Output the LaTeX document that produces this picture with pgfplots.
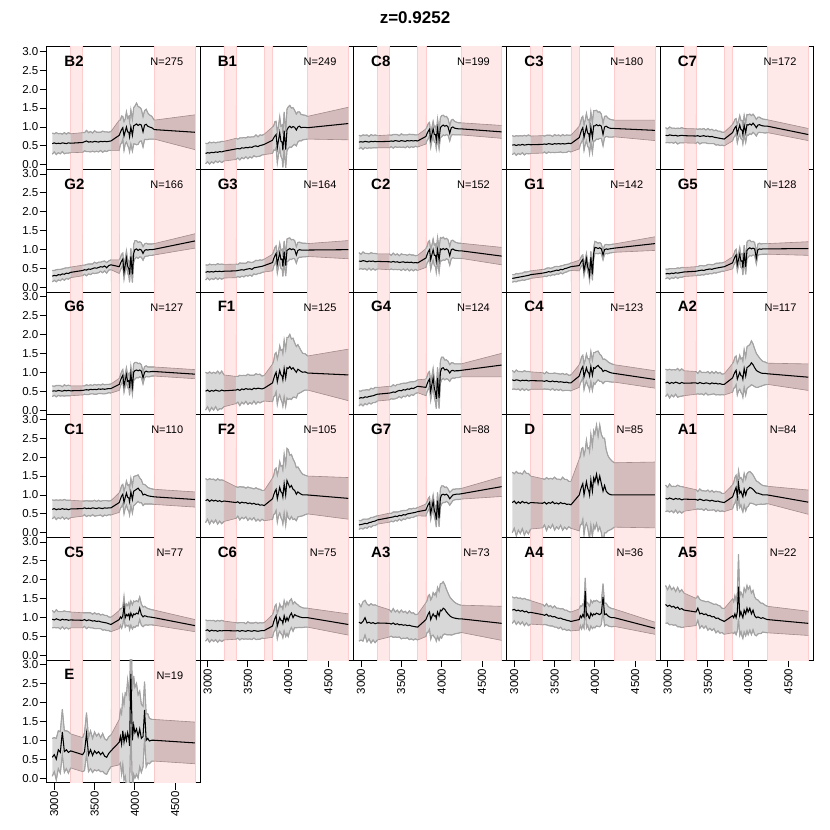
\documentclass[border=0pt]{standalone}
\usepackage{fontspec}
\setmainfont{Liberation Sans}
\usepackage{pgfplots}
\usepackage{pgfplotstable}
\pgfplotsset{compat=1.18}

\definecolor{pinkf}{RGB}{255,232,232}
\definecolor{pinke}{RGB}{255,205,205}
\definecolor{bandf}{RGB}{216,216,216}
\definecolor{bande}{RGB}{163,163,163}
\definecolor{brownf}{RGB}{212,188,188}
\definecolor{browne}{RGB}{165,140,140}

\pgfplotstableread{
name 1 2 3 4 5 6 7 8 9 10 11 12 13 14 15 16 17 18 19 20 21 22 23 24 25 26 27 28 29 30 31 32 33 34 35 36 37 38 39 40 41 42 43 44 45 46 47 48 49 50 51
x 2975 3000 3025 3050 3075 3100 3125 3150 3175 3203  3352 3375 3400 3425 3450 3475 3500 3525 3550 3575 3600 3625 3650 3675 3703  3806 3820 3835 3850 3865 3880 3895 3910 3925 3934 3950 3969 3985 4000 4020 4040 4060 4080 4101 4120 4140 4160 4180 4210 4240  4745
B2y 0.56 0.58 0.56 0.57 0.56 0.58 0.57 0.56 0.58 0.57  0.59 0.61 0.63 0.60 0.61 0.60 0.62 0.61 0.60 0.62 0.61 0.62 0.61 0.62 0.63  0.78 0.86 0.93 0.98 0.76 0.88 1.00 0.87 0.86 0.74 1.00 0.78 1.03 1.05 1.08 1.04 1.07 1.05 0.87 1.05 1.07 1.02 1.00 0.98 0.93  0.86
B2w 0.28 0.24 0.29 0.25 0.27 0.23 0.28 0.25 0.27 0.25  0.26 0.24 0.28 0.25 0.27 0.24 0.28 0.25 0.26 0.24 0.28 0.25 0.26 0.24 0.25  0.40 0.32 0.36 0.30 0.38 0.33 0.40 0.36 0.42 0.40 0.45 0.42 0.48 0.50 0.55 0.50 0.45 0.42 0.40 0.38 0.40 0.35 0.32 0.30 0.25  0.46
B1y 0.30 0.32 0.31 0.33 0.32 0.34 0.33 0.35 0.34 0.36  0.42 0.43 0.42 0.45 0.44 0.46 0.45 0.47 0.46 0.49 0.50 0.48 0.51 0.52 0.54  0.65 0.71 0.76 0.80 0.45 0.65 0.85 0.62 0.60 0.38 0.90 0.40 0.92 0.98 1.02 0.98 1.01 0.99 0.92 1.00 1.02 0.98 0.99 0.99 0.98  1.09
B1w 0.27 0.24 0.29 0.25 0.28 0.24 0.27 0.25 0.28 0.26  0.28 0.25 0.29 0.26 0.28 0.25 0.29 0.26 0.28 0.25 0.29 0.26 0.28 0.26 0.27  0.35 0.32 0.38 0.35 0.40 0.38 0.42 0.40 0.45 0.45 0.50 0.48 0.55 0.55 0.55 0.52 0.50 0.45 0.42 0.40 0.38 0.35 0.33 0.32 0.30  0.43
C8y 0.60 0.61 0.60 0.62 0.61 0.60 0.62 0.61 0.62 0.61  0.62 0.63 0.62 0.64 0.63 0.62 0.64 0.63 0.62 0.64 0.63 0.64 0.63 0.64 0.63  0.75 0.83 0.89 0.94 0.66 0.81 0.95 0.80 0.80 0.65 0.96 0.66 0.98 1.02 1.05 1.02 1.04 1.00 0.83 0.98 1.00 0.97 0.96 0.95 0.95  0.87
C8w 0.18 0.15 0.19 0.16 0.18 0.15 0.18 0.16 0.17 0.16  0.17 0.15 0.18 0.16 0.17 0.15 0.18 0.16 0.17 0.15 0.18 0.16 0.17 0.15 0.16  0.20 0.18 0.20 0.18 0.20 0.18 0.20 0.20 0.22 0.22 0.25 0.24 0.26 0.28 0.26 0.25 0.24 0.22 0.20 0.20 0.20 0.18 0.17 0.16 0.16  0.17
C3y 0.52 0.53 0.51 0.53 0.52 0.54 0.52 0.53 0.54 0.53  0.54 0.55 0.54 0.56 0.55 0.54 0.56 0.55 0.56 0.55 0.56 0.55 0.56 0.57 0.56  0.72 0.82 0.92 0.98 0.72 0.86 1.00 0.84 0.82 0.68 1.00 0.72 1.03 1.03 1.06 1.03 1.05 1.02 0.80 1.00 1.02 0.99 0.97 0.96 0.96  0.91
C3w 0.25 0.22 0.26 0.23 0.25 0.22 0.26 0.23 0.25 0.23  0.23 0.21 0.24 0.22 0.23 0.21 0.24 0.22 0.23 0.21 0.24 0.22 0.23 0.21 0.22  0.30 0.28 0.32 0.30 0.34 0.32 0.36 0.35 0.38 0.38 0.40 0.40 0.40 0.40 0.38 0.36 0.35 0.32 0.30 0.28 0.27 0.25 0.24 0.23 0.22  0.27
C7y 0.78 0.77 0.79 0.78 0.77 0.78 0.76 0.77 0.78 0.77  0.76 0.77 0.75 0.76 0.77 0.75 0.76 0.74 0.75 0.73 0.72 0.71 0.70 0.69 0.68  0.85 0.92 0.98 1.02 0.82 0.94 1.05 0.93 0.92 0.80 1.05 0.85 1.06 1.05 1.08 1.05 1.10 1.05 0.98 1.05 1.06 1.04 1.03 1.02 1.02  0.80
C7w 0.20 0.18 0.21 0.19 0.20 0.18 0.21 0.19 0.20 0.19  0.19 0.17 0.20 0.18 0.19 0.17 0.20 0.18 0.19 0.17 0.20 0.18 0.19 0.17 0.18  0.22 0.20 0.22 0.20 0.24 0.22 0.25 0.24 0.25 0.25 0.26 0.26 0.27 0.27 0.26 0.25 0.24 0.23 0.22 0.21 0.20 0.19 0.18 0.18 0.17  0.16
G2y 0.30 0.32 0.31 0.34 0.33 0.36 0.35 0.38 0.37 0.40  0.45 0.47 0.46 0.49 0.48 0.50 0.52 0.51 0.53 0.55 0.54 0.57 0.52 0.58 0.60  0.55 0.63 0.70 0.75 0.40 0.59 0.78 0.56 0.50 0.34 0.82 0.35 0.90 1.00 1.02 0.98 1.01 0.99 0.90 0.98 1.00 0.99 1.00 1.00 1.01  1.23
G2w 0.15 0.13 0.16 0.14 0.15 0.13 0.16 0.14 0.15 0.14  0.14 0.12 0.15 0.13 0.14 0.12 0.15 0.13 0.14 0.12 0.15 0.13 0.14 0.12 0.13  0.18 0.16 0.18 0.16 0.18 0.17 0.19 0.18 0.20 0.20 0.22 0.22 0.24 0.24 0.22 0.21 0.20 0.19 0.18 0.17 0.17 0.16 0.15 0.15 0.15  0.19
G3y 0.40 0.42 0.41 0.42 0.41 0.43 0.42 0.43 0.42 0.43  0.44 0.45 0.46 0.47 0.46 0.48 0.49 0.50 0.48 0.52 0.53 0.54 0.55 0.56 0.58  0.66 0.76 0.84 0.90 0.62 0.77 0.92 0.74 0.75 0.55 0.95 0.58 0.98 1.00 1.03 1.00 1.02 1.00 0.86 0.98 1.00 0.99 0.99 0.99 0.99  1.00
G3w 0.20 0.17 0.21 0.18 0.20 0.17 0.21 0.18 0.20 0.18  0.18 0.16 0.19 0.17 0.18 0.16 0.19 0.17 0.18 0.16 0.19 0.17 0.18 0.16 0.17  0.22 0.20 0.22 0.20 0.24 0.22 0.25 0.24 0.26 0.26 0.28 0.28 0.30 0.30 0.28 0.26 0.25 0.24 0.22 0.21 0.20 0.19 0.18 0.18 0.17  0.24
C2y 0.70 0.69 0.71 0.70 0.68 0.70 0.69 0.70 0.68 0.69  0.68 0.67 0.69 0.67 0.68 0.66 0.67 0.68 0.66 0.67 0.66 0.67 0.65 0.66 0.65  0.78 0.87 0.95 1.00 0.74 0.87 1.00 0.85 0.85 0.70 1.00 0.72 1.02 1.00 1.03 1.00 1.03 1.00 0.84 1.00 1.02 0.99 0.98 0.97 0.97  0.83
C2w 0.22 0.19 0.23 0.20 0.22 0.19 0.23 0.20 0.22 0.20  0.21 0.18 0.22 0.19 0.21 0.18 0.22 0.19 0.21 0.18 0.22 0.19 0.21 0.18 0.20  0.25 0.22 0.26 0.24 0.27 0.25 0.28 0.27 0.30 0.30 0.32 0.32 0.30 0.30 0.30 0.28 0.27 0.26 0.25 0.24 0.23 0.22 0.21 0.20 0.20  0.23
G1y 0.24 0.25 0.26 0.27 0.28 0.29 0.30 0.31 0.32 0.34  0.38 0.39 0.40 0.42 0.41 0.43 0.44 0.46 0.45 0.48 0.47 0.50 0.51 0.53 0.55  0.58 0.64 0.70 0.74 0.45 0.60 0.76 0.55 0.45 0.33 0.80 0.35 0.90 1.06 1.05 1.03 1.05 1.02 0.86 1.00 1.02 1.01 1.02 1.03 1.04  1.16
G1w 0.10 0.09 0.11 0.09 0.10 0.09 0.11 0.10 0.10 0.10  0.10 0.09 0.11 0.10 0.10 0.09 0.11 0.10 0.10 0.09 0.11 0.10 0.10 0.09 0.10  0.14 0.12 0.13 0.12 0.14 0.13 0.14 0.13 0.15 0.15 0.16 0.16 0.16 0.16 0.15 0.14 0.14 0.13 0.13 0.12 0.12 0.12 0.11 0.11 0.11  0.18
G5y 0.36 0.37 0.36 0.38 0.37 0.39 0.38 0.39 0.40 0.41  0.43 0.44 0.45 0.46 0.45 0.47 0.48 0.49 0.48 0.50 0.51 0.52 0.53 0.54 0.55  0.65 0.73 0.81 0.86 0.60 0.74 0.88 0.70 0.70 0.52 0.92 0.55 0.98 1.02 1.05 1.02 1.04 1.02 0.78 1.00 1.02 1.01 1.02 1.02 1.02  1.03
G5w 0.13 0.11 0.14 0.12 0.13 0.11 0.14 0.12 0.13 0.12  0.12 0.11 0.13 0.12 0.12 0.11 0.13 0.12 0.12 0.11 0.13 0.12 0.12 0.11 0.12  0.16 0.14 0.16 0.15 0.17 0.16 0.18 0.17 0.19 0.19 0.20 0.20 0.22 0.22 0.20 0.19 0.18 0.17 0.16 0.15 0.15 0.14 0.14 0.14 0.14  0.18
G6y 0.50 0.51 0.50 0.52 0.51 0.50 0.52 0.51 0.52 0.51  0.52 0.53 0.54 0.53 0.55 0.54 0.55 0.54 0.56 0.55 0.56 0.55 0.56 0.57 0.57  0.68 0.78 0.86 0.92 0.64 0.79 0.94 0.76 0.78 0.58 0.96 0.62 1.00 1.04 1.06 1.04 1.06 1.03 0.85 1.00 1.03 1.01 1.01 1.02 1.02  0.95
G6w 0.14 0.12 0.15 0.13 0.14 0.12 0.15 0.13 0.14 0.13  0.12 0.11 0.13 0.12 0.12 0.11 0.13 0.12 0.12 0.11 0.13 0.12 0.12 0.11 0.12  0.16 0.14 0.16 0.15 0.17 0.16 0.18 0.17 0.19 0.19 0.20 0.20 0.22 0.22 0.20 0.19 0.18 0.17 0.16 0.15 0.14 0.13 0.13 0.12 0.12  0.12
F1y 0.50 0.53 0.49 0.52 0.50 0.53 0.51 0.50 0.53 0.51  0.53 0.55 0.52 0.56 0.54 0.57 0.55 0.56 0.54 0.58 0.56 0.58 0.57 0.56 0.58  0.72 0.83 0.93 1.00 0.75 0.90 1.05 0.93 0.90 0.80 1.10 0.85 1.12 1.10 1.15 1.08 1.12 1.06 1.00 1.08 1.05 1.02 1.00 1.01 0.98  0.93
F1w 0.50 0.44 0.52 0.45 0.50 0.44 0.52 0.46 0.50 0.42  0.36 0.34 0.40 0.35 0.38 0.34 0.40 0.36 0.38 0.34 0.40 0.36 0.38 0.34 0.34  0.50 0.48 0.55 0.52 0.60 0.58 0.65 0.65 0.70 0.70 0.75 0.75 0.80 0.82 0.85 0.80 0.78 0.72 0.68 0.65 0.60 0.55 0.50 0.48 0.45  0.68
G4y 0.31 0.33 0.32 0.35 0.34 0.36 0.37 0.38 0.40 0.42  0.45 0.46 0.48 0.47 0.50 0.52 0.51 0.54 0.53 0.56 0.55 0.58 0.57 0.60 0.63  0.60 0.69 0.77 0.82 0.50 0.68 0.85 0.58 0.45 0.30 0.85 0.32 1.00 1.10 1.12 1.06 1.08 1.05 0.98 1.04 1.05 1.03 1.04 1.04 1.05  1.19
G4w 0.20 0.17 0.21 0.18 0.20 0.17 0.21 0.18 0.20 0.18  0.18 0.16 0.19 0.17 0.18 0.16 0.19 0.17 0.18 0.16 0.19 0.17 0.18 0.16 0.17  0.22 0.20 0.22 0.20 0.24 0.22 0.25 0.24 0.26 0.26 0.28 0.28 0.30 0.30 0.28 0.26 0.25 0.24 0.22 0.21 0.20 0.19 0.18 0.18 0.17  0.31
C4y 0.80 0.78 0.80 0.79 0.77 0.79 0.78 0.79 0.77 0.78  0.77 0.76 0.78 0.76 0.75 0.77 0.75 0.76 0.74 0.75 0.74 0.73 0.74 0.72 0.72  0.90 1.00 1.09 1.15 0.88 1.00 1.12 1.01 0.98 0.90 1.15 0.92 1.12 1.10 1.15 1.18 1.12 1.10 1.02 1.05 1.04 1.02 1.00 0.98 0.97  0.81
C4w 0.25 0.22 0.26 0.23 0.25 0.22 0.26 0.23 0.25 0.23  0.22 0.20 0.23 0.21 0.22 0.20 0.23 0.21 0.22 0.20 0.23 0.21 0.22 0.20 0.21  0.30 0.28 0.32 0.30 0.34 0.32 0.36 0.35 0.38 0.38 0.40 0.40 0.40 0.42 0.40 0.38 0.36 0.34 0.32 0.30 0.28 0.26 0.25 0.24 0.23  0.23
A2y 0.72 0.74 0.70 0.73 0.71 0.74 0.72 0.70 0.73 0.71  0.72 0.70 0.73 0.71 0.70 0.72 0.71 0.69 0.72 0.70 0.71 0.69 0.70 0.68 0.68  0.85 0.93 1.00 1.05 0.82 0.91 1.00 0.91 0.90 0.82 1.10 0.90 1.12 1.15 1.18 1.25 1.20 1.12 1.05 1.02 1.00 0.98 0.97 0.97 0.96  0.87
A2w 0.36 0.32 0.38 0.33 0.36 0.32 0.38 0.34 0.36 0.33  0.30 0.27 0.31 0.28 0.30 0.27 0.31 0.28 0.30 0.27 0.31 0.28 0.30 0.27 0.28  0.38 0.36 0.40 0.38 0.42 0.40 0.45 0.44 0.48 0.48 0.50 0.50 0.55 0.55 0.55 0.58 0.55 0.50 0.45 0.42 0.38 0.35 0.32 0.30 0.28  0.35
C1y 0.62 0.64 0.61 0.63 0.62 0.64 0.62 0.63 0.61 0.63  0.64 0.66 0.64 0.65 0.64 0.66 0.65 0.64 0.66 0.65 0.64 0.66 0.65 0.66 0.66  0.80 0.89 0.97 1.02 0.80 0.93 1.05 0.94 0.92 0.82 1.08 0.88 1.10 1.12 1.15 1.18 1.12 1.10 1.00 1.02 1.00 0.98 0.97 0.96 0.95  0.88
C1w 0.25 0.22 0.26 0.23 0.25 0.22 0.26 0.23 0.25 0.23  0.20 0.18 0.21 0.19 0.20 0.18 0.21 0.19 0.20 0.18 0.21 0.19 0.20 0.18 0.19  0.26 0.24 0.28 0.26 0.30 0.28 0.32 0.32 0.35 0.35 0.36 0.36 0.38 0.38 0.36 0.35 0.33 0.30 0.28 0.26 0.24 0.22 0.21 0.20 0.20  0.20
F2y 0.85 0.88 0.83 0.87 0.84 0.86 0.83 0.85 0.82 0.84  0.80 0.82 0.78 0.81 0.79 0.80 0.77 0.79 0.76 0.78 0.75 0.76 0.73 0.74 0.72  0.90 1.00 1.09 1.15 0.90 1.05 1.20 1.08 1.05 0.95 1.30 1.00 1.38 1.30 1.20 1.25 1.15 1.12 1.02 1.08 1.05 1.02 1.00 1.00 1.00  0.91
F2w 0.58 0.52 0.60 0.54 0.58 0.52 0.60 0.54 0.58 0.54  0.42 0.38 0.44 0.40 0.42 0.38 0.44 0.40 0.42 0.38 0.44 0.40 0.42 0.38 0.40  0.55 0.52 0.58 0.56 0.62 0.60 0.68 0.68 0.72 0.72 0.78 0.80 0.85 0.90 0.85 0.82 0.80 0.75 0.70 0.66 0.62 0.58 0.55 0.52 0.50  0.55
G7y 0.21 0.22 0.23 0.25 0.24 0.27 0.28 0.30 0.31 0.34  0.40 0.41 0.42 0.44 0.43 0.46 0.45 0.48 0.47 0.50 0.51 0.52 0.53 0.54 0.56  0.60 0.68 0.75 0.80 0.52 0.67 0.82 0.59 0.50 0.35 0.85 0.38 0.92 1.00 1.02 1.00 1.02 0.98 0.90 0.95 1.00 1.01 1.02 1.02 1.03  1.22
G7w 0.12 0.10 0.13 0.11 0.12 0.10 0.13 0.11 0.12 0.11  0.12 0.10 0.13 0.11 0.12 0.10 0.13 0.11 0.12 0.10 0.13 0.11 0.12 0.10 0.11  0.16 0.14 0.16 0.15 0.17 0.16 0.18 0.17 0.20 0.20 0.22 0.22 0.24 0.24 0.22 0.20 0.19 0.18 0.17 0.16 0.15 0.14 0.14 0.14 0.14  0.26
Dy 0.80 0.84 0.77 0.82 0.78 0.83 0.79 0.81 0.77 0.80  0.78 0.81 0.76 0.80 0.78 0.82 0.77 0.79 0.76 0.80 0.77 0.78 0.75 0.76 0.74  1.00 1.12 1.22 1.30 1.00 1.18 1.35 1.18 1.10 1.00 1.40 1.10 1.45 1.35 1.55 1.30 1.50 1.30 1.10 1.25 1.10 1.05 1.02 1.00 1.00  1.00
Dw 0.80 0.72 0.85 0.75 0.80 0.72 0.85 0.76 0.80 0.70  0.65 0.60 0.70 0.62 0.66 0.60 0.70 0.63 0.66 0.60 0.70 0.63 0.66 0.60 0.62  0.95 0.90 1.00 0.95 1.05 1.00 1.10 1.05 1.15 1.15 1.20 1.20 1.25 1.25 1.30 1.25 1.35 1.30 1.40 1.25 1.10 1.00 0.95 0.90 0.85  0.87
A1y 0.91 0.89 0.92 0.90 0.88 0.91 0.89 0.90 0.87 0.89  0.88 0.86 0.89 0.87 0.85 0.87 0.86 0.84 0.86 0.84 0.83 0.84 0.82 0.81 0.80  0.95 1.03 1.12 1.20 0.95 1.30 1.05 1.10 1.00 0.95 1.15 1.00 1.12 1.15 1.20 1.18 1.15 1.10 1.05 1.05 1.03 1.02 1.00 1.00 1.00  0.81
A1w 0.35 0.31 0.37 0.32 0.35 0.31 0.37 0.33 0.35 0.32  0.26 0.23 0.27 0.24 0.26 0.23 0.27 0.24 0.26 0.23 0.27 0.24 0.26 0.23 0.24  0.32 0.30 0.34 0.32 0.36 0.34 0.38 0.36 0.40 0.40 0.42 0.42 0.44 0.45 0.42 0.40 0.38 0.35 0.32 0.30 0.28 0.26 0.25 0.24 0.23  0.32
C5y 0.96 0.94 0.97 0.95 0.93 0.96 0.94 0.95 0.93 0.94  0.93 0.95 0.92 0.94 0.93 0.91 0.92 0.90 0.91 0.89 0.88 0.87 0.86 0.84 0.82  0.95 1.02 0.98 1.05 1.30 1.00 1.08 1.05 1.10 0.98 1.12 1.02 1.10 1.08 1.12 1.10 1.25 1.08 1.02 1.05 1.04 1.02 1.02 1.01 1.00  0.79
C5w 0.23 0.20 0.24 0.21 0.23 0.20 0.24 0.21 0.23 0.21  0.20 0.18 0.21 0.19 0.20 0.18 0.21 0.19 0.20 0.18 0.21 0.19 0.20 0.18 0.19  0.24 0.22 0.26 0.24 0.26 0.25 0.28 0.27 0.30 0.30 0.32 0.32 0.34 0.34 0.33 0.32 0.30 0.28 0.26 0.25 0.23 0.22 0.21 0.20 0.20  0.16
C6y 0.66 0.68 0.64 0.67 0.65 0.66 0.64 0.66 0.65 0.66  0.65 0.66 0.64 0.66 0.65 0.64 0.66 0.65 0.64 0.66 0.65 0.64 0.65 0.66 0.66  0.78 0.89 0.98 1.05 0.78 0.89 1.00 0.93 0.92 0.85 1.05 0.90 1.00 0.92 1.05 1.12 1.00 1.08 1.05 1.04 1.02 1.01 1.00 1.00 1.00  0.82
C6w 0.28 0.24 0.29 0.25 0.28 0.24 0.29 0.25 0.28 0.25  0.22 0.20 0.23 0.21 0.22 0.20 0.23 0.21 0.22 0.20 0.23 0.21 0.22 0.20 0.21  0.30 0.28 0.32 0.30 0.34 0.32 0.36 0.35 0.38 0.38 0.40 0.40 0.42 0.42 0.40 0.38 0.36 0.34 0.32 0.30 0.28 0.27 0.26 0.25 0.25  0.28
A3y 0.88 0.85 0.90 1.00 0.86 0.88 0.85 0.87 0.84 0.86  0.85 0.83 0.86 0.82 0.84 0.81 0.82 0.80 0.81 0.79 0.80 0.78 0.77 0.76 0.75  0.95 1.03 1.10 1.15 0.95 1.03 1.10 1.04 1.05 0.98 1.15 1.05 1.20 1.18 1.25 1.22 1.15 1.10 1.05 1.02 1.00 0.99 0.98 0.97 0.97  0.85
A3w 0.50 0.44 0.52 0.46 0.50 0.44 0.52 0.46 0.50 0.45  0.36 0.32 0.38 0.33 0.36 0.32 0.38 0.34 0.36 0.32 0.38 0.34 0.36 0.32 0.34  0.45 0.42 0.48 0.46 0.52 0.50 0.56 0.56 0.60 0.60 0.65 0.65 0.70 0.72 0.70 0.65 0.60 0.55 0.50 0.48 0.45 0.42 0.40 0.38 0.36  0.45
A4y 1.20 1.22 1.18 1.20 1.17 1.19 1.15 1.17 1.13 1.14  1.08 1.06 1.09 1.04 1.05 1.02 1.03 1.00 0.98 0.99 0.96 0.95 0.93 0.92 0.90  0.95 1.05 1.00 1.08 1.02 1.70 1.05 1.10 1.00 0.98 1.12 1.05 1.10 1.08 1.12 1.10 1.08 1.12 1.55 1.08 1.10 1.05 1.02 1.00 1.00  0.72
A4w 0.35 0.30 0.36 0.31 0.35 0.30 0.36 0.31 0.34 0.31  0.27 0.24 0.28 0.25 0.27 0.24 0.28 0.25 0.27 0.24 0.28 0.25 0.27 0.24 0.25  0.28 0.26 0.30 0.28 0.30 0.35 0.32 0.30 0.32 0.32 0.34 0.34 0.35 0.35 0.34 0.33 0.32 0.30 0.35 0.30 0.28 0.26 0.25 0.24 0.23  0.16
A5y 1.35 1.30 1.33 1.28 1.30 1.25 1.28 1.22 1.24 1.20  1.15 1.25 1.10 1.12 1.08 1.10 1.05 1.06 1.02 1.03 0.98 0.99 0.95 0.93 0.90  1.05 1.00 1.10 1.00 1.15 1.82 1.05 1.15 1.05 1.00 1.20 1.10 1.25 1.15 1.25 1.10 1.20 1.05 1.00 1.02 1.00 0.98 1.00 0.97 0.95  0.85
A5w 0.50 0.44 0.52 0.46 0.50 0.44 0.52 0.46 0.50 0.45  0.36 0.32 0.38 0.33 0.36 0.32 0.38 0.34 0.36 0.32 0.38 0.34 0.36 0.32 0.34  0.45 0.42 0.48 0.45 0.50 0.85 0.52 0.52 0.55 0.55 0.58 0.58 0.60 0.60 0.58 0.55 0.52 0.50 0.48 0.45 0.42 0.40 0.38 0.36 0.35  0.32
Ey 0.55 0.62 0.50 0.75 0.68 1.22 0.70 0.75 0.68 0.72  0.62 0.70 1.18 0.62 0.75 0.60 0.72 0.65 0.70 0.62 0.68 0.58 0.55 0.65 0.72  0.95 1.10 0.90 1.25 0.95 1.15 1.00 1.20 1.05 0.85 2.75 1.00 1.40 1.20 1.30 1.10 1.30 1.05 1.10 1.80 1.00 1.05 0.98 1.00 1.00  0.93
Ew 0.50 0.45 0.55 0.50 0.55 0.60 0.55 0.50 0.55 0.45  0.45 0.50 0.55 0.45 0.50 0.45 0.50 0.46 0.48 0.45 0.50 0.46 0.45 0.44 0.42  0.60 0.70 0.80 0.90 1.00 1.10 1.20 1.40 1.30 1.20 1.40 1.30 1.30 1.20 1.20 1.10 1.00 0.90 0.80 0.75 0.70 0.65 0.60 0.55 0.55  0.55
}\rawtab
\pgfplotstabletranspose[colnames from=name]{\spec}{\rawtab}
\pgfplotstabletranspose[colnames from=name]{\polytab}{\rawtab}
\pgfplotstabletranspose[colnames from=name]{\fwdtmp}{\rawtab}
\pgfplotstablesort[sort key=x, sort cmp=float >]{\revtab}{\fwdtmp}
\newcommand{\mkpoly}[1]{%
  \pgfplotstablecreatecol[create col/expr={\thisrow{#1y}-\thisrow{#1w}}]{#1p}{\polytab}%
  \pgfplotstablecreatecol[create col/expr={\thisrow{#1y}+\thisrow{#1w}}]{#1p}{\revtab}}
\mkpoly{B2}\mkpoly{B1}\mkpoly{C8}\mkpoly{C3}\mkpoly{C7}
\mkpoly{G2}\mkpoly{G3}\mkpoly{C2}\mkpoly{G1}\mkpoly{G5}
\mkpoly{G6}\mkpoly{F1}\mkpoly{G4}\mkpoly{C4}\mkpoly{A2}
\mkpoly{C1}\mkpoly{F2}\mkpoly{G7}\mkpoly{D}\mkpoly{A1}
\mkpoly{C5}\mkpoly{C6}\mkpoly{A3}\mkpoly{A4}\mkpoly{A5}
\mkpoly{E}
\pgfplotstablevertcat{\polytab}{\revtab}

\pgfplotsset{
  panel/.style={scale only axis, width=153.33pt, height=122.67pt,
    xmin=2906, xmax=4808, ymin=-0.12, ymax=3.12,
    xtick=\empty, ytick=\empty,
    axis line style={line width=0.9pt},
    tick style={line width=0.8pt, black},
    major tick length=7pt, tick align=outside,
    xtick pos=left, ytick pos=left,
    anchor=north west,
    tick label style={font=\fontsize{11.5}{12}\selectfont}},
  ylab/.style={ytick={0,0.5,1,1.5,2,2.5,3},
    yticklabels={0.0,0.5,1.0,1.5,2.0,2.5,3.0},
    yticklabel style={inner sep=1.2pt}},
  xlab/.style={xtick={3000,3500,4000,4500},
    xticklabels={3000,3500,4000,4500},
    xticklabel style={rotate=90, anchor=east, inner sep=1.5pt}},
}

\newcommand{\pinkband}[2]{%
  \addplot[fill=pinkf, draw=pinke, line width=0.6pt] coordinates {(#1,-1) (#1,4) (#2,4) (#2,-1) (#1,-1)};
}
% brown band over a gap: band polygon with x clamped to [#2,#3]
\newcommand{\gapband}[3]{%
  \addplot[fill=brownf, draw=none, x filter/.expression={max(#2,min(#3,x))}] table[x=x, y=#1p] {\polytab};
}
\newcommand{\segedge}[2]{%
  \addplot[bande, line width=1.1pt, restrict x to domain=#2] table[x=x, y expr=\thisrow{#1y}-\thisrow{#1w}] {\spec};
  \addplot[bande, line width=1.1pt, restrict x to domain=#2] table[x=x, y expr=\thisrow{#1y}+\thisrow{#1w}] {\spec};
}

\newcommand{\panelbody}[2]{%
  \pinkband{3203}{3352}
  \pinkband{3703}{3806}
  \pinkband{4240}{4745}
  \addplot[fill=bandf, draw=none] table[x=x, y=#1p] {\polytab};
  \gapband{#1}{3203}{3352}
  \gapband{#1}{3703}{3806}
  \gapband{#1}{4240}{4745}
  \addplot[browne, line width=0.6pt] table[x=x, y expr=\thisrow{#1y}-\thisrow{#1w}] {\spec};
  \addplot[browne, line width=0.6pt] table[x=x, y expr=\thisrow{#1y}+\thisrow{#1w}] {\spec};
  \segedge{#1}{2970:3210}
  \segedge{#1}{3340:3710}
  \segedge{#1}{3800:4245}
  \addplot[black, line width=1.05pt] table[x=x, y=#1y] {\spec};
  \node[anchor=west, font=\bfseries\fontsize{15}{16}\selectfont] at (rel axis cs:0.093,0.88) {#1};
  \node[anchor=east, font=\fontsize{11}{12}\selectfont] at (rel axis cs:0.913,0.875) {N=#2};
}

\newcommand{\panel}[5]{%
  \begin{axis}[panel, at={(#1pt,#2pt)}, #5]
  \panelbody{#3}{#4}
  \end{axis}}

\begin{document}
\begin{tikzpicture}
\path (0,0) rectangle (830pt,830pt);
\node[font=\bfseries\fontsize{17}{20}\selectfont] at (415pt,812pt) {z=0.9252};
\panel{46.7}{783.3}{B2}{275}{ylab}
\panel{200.0}{783.3}{B1}{249}{}
\panel{353.4}{783.3}{C8}{199}{}
\panel{506.7}{783.3}{C3}{180}{}
\panel{660.0}{783.3}{C7}{172}{}
\panel{46.7}{660.6}{G2}{166}{ylab}
\panel{200.0}{660.6}{G3}{164}{}
\panel{353.4}{660.6}{C2}{152}{}
\panel{506.7}{660.6}{G1}{142}{}
\panel{660.0}{660.6}{G5}{128}{}
\panel{46.7}{538.0}{G6}{127}{ylab}
\panel{200.0}{538.0}{F1}{125}{}
\panel{353.4}{538.0}{G4}{124}{}
\panel{506.7}{538.0}{C4}{123}{}
\panel{660.0}{538.0}{A2}{117}{}
\panel{46.7}{415.3}{C1}{110}{ylab}
\panel{200.0}{415.3}{F2}{105}{}
\panel{353.4}{415.3}{G7}{88}{}
\panel{506.7}{415.3}{D}{85}{}
\panel{660.0}{415.3}{A1}{84}{}
\panel{46.7}{292.6}{C5}{77}{ylab}
\panel{200.0}{292.6}{C6}{75}{xlab}
\panel{353.4}{292.6}{A3}{73}{xlab}
\panel{506.7}{292.6}{A4}{36}{xlab}
\panel{660.0}{292.6}{A5}{22}{xlab}
\panel{46.7}{170.0}{E}{19}{ylab,xlab}
\end{tikzpicture}
\end{document}
